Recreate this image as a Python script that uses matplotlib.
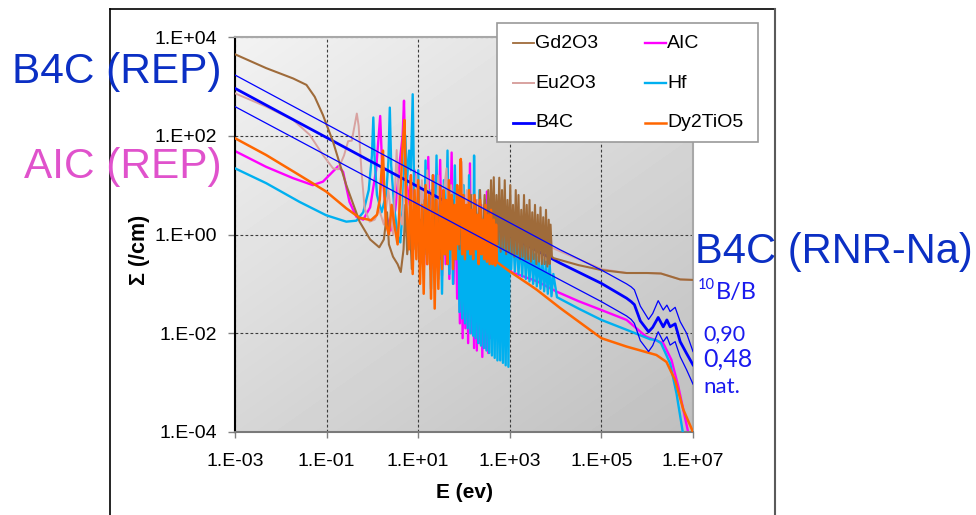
import numpy as np
import matplotlib
matplotlib.use("Agg")
import matplotlib.pyplot as plt
from matplotlib.lines import Line2D
from matplotlib.patches import Rectangle
from matplotlib.ticker import FixedLocator, FixedFormatter, NullLocator

W, H = 976, 515
plt.rcParams['font.family'] = ['Liberation Sans', 'DejaVu Sans']

# ---------------- data (log10 E [eV], log10 Sigma [/cm]) ----------------
series_names = ["Gd2O3", "Eu2O3", "B4C", "AIC", "Hf", "Dy2TiO5"]

gd_pts = [(-3.0, 3.65), (-2.32, 3.37), (-1.73, 3.16), (-1.44, 3.03), (-1.26, 2.79), (-1.08, 2.42),
          (-0.86, 1.88), (-0.57, 1.0), (-0.28, 0.26), (-0.05, -0.1), (0.15, -0.26), (0.25, -0.1),
          (0.32, 0.45), (0.36, -0.2), (0.45, -0.45), (0.55, -0.6), (0.62, -0.76), (0.68, -0.3),
          (0.72, 0.6), (0.76, -0.4), (0.82, 0.2), (0.86, -0.7), (0.90, 0.5), (0.94, -0.3),
          (0.98, 0.6), (1.02, -0.5), (1.06, 0.3), (1.10, -0.6), (1.14, 0.7), (1.18, -0.4),
          (1.22, 0.4), (1.26, -0.7), (1.30, 0.5), (1.34, -0.5), (1.38, 0.7), (1.42, -0.3),
          (1.46, 0.4), (1.50, -0.5), (1.55, 0.7), (1.60, -0.4), (1.65, 0.5), (1.70, -0.3),
          (1.75, 0.7), (1.80, -0.2), (1.85, 0.6), (1.90, -0.3), (1.95, 0.8), (2.00, -0.1),
          (2.05, 0.6), (2.10, -0.2), (2.15, 0.8), (2.20, -0.3), (2.25, 0.7), (2.30, -0.2),
          (2.35, 0.9), (2.40, -0.3), (2.45, 0.8),
          (2.50, -0.2), (2.53, 0.9), (2.56, -0.2), (2.59, 1.1), (2.62, -0.1), (2.65, 1.16),
          (2.68, -0.3), (2.71, 0.8), (2.74, -0.2), (2.77, 1.15), (2.80, -0.35), (2.83, 0.9),
          (2.86, -0.3), (2.89, 1.1), (2.92, -0.4), (2.95, 0.7), (2.98, -0.35), (3.01, 1.0),
          (3.04, -0.4), (3.07, 0.6), (3.10, -0.45), (3.13, 0.9), (3.16, -0.4), (3.19, 0.8),
          (3.22, -0.5), (3.25, 0.5), (3.28, -0.45), (3.31, 0.8), (3.34, -0.5), (3.37, 0.6),
          (3.40, -0.5), (3.43, 0.7), (3.46, -0.55), (3.49, 0.45), (3.52, -0.5), (3.55, 0.6),
          (3.58, -0.6), (3.61, 0.4), (3.64, -0.55), (3.67, 0.55), (3.70, -0.6), (3.73, 0.35),
          (3.76, -0.6), (3.79, 0.5), (3.82, -0.65), (3.85, 0.3), (3.87, -0.6), (3.89, 0.2),
          (3.92, -0.45), (3.96, -0.48), (4.5, -0.62), (5.0, -0.72), (5.55, -0.78), (6.0, -0.78),
          (6.3, -0.79), (6.72, -0.91), (7.0, -0.92)]

eu_pts = [(-3.0, 2.86), (-2.32, 2.59), (-1.73, 2.32), (-1.37, 2.02), (-1.08, 1.61), (-0.86, 1.34),
          (-0.75, 1.32), (-0.62, 1.6), (-0.53, 1.89), (-0.45, 1.9), (-0.39, 2.2), (-0.34, 2.45),
          (-0.30, 2.2), (-0.24, 1.3), (-0.17, 0.53), (-0.06, 0.26), (0.05, 0.3), (0.15, 0.5),
          (0.25, 0.2), (0.35, 0.9), (0.45, 0.0), (0.53, 1.71), (0.58, 0.5), (0.65, 0.2),
          (0.72, 1.2), (0.78, 0.3), (0.85, 1.0), (0.90, 0.1), (0.96, 1.2), (1.02, 0.0),
          (1.08, 1.1), (1.14, -0.1), (1.20, 1.3), (1.26, 0.0), (1.32, 1.0), (1.38, -0.2),
          (1.44, 1.2), (1.50, 0.0), (1.56, 0.9), (1.62, 1.34), (1.66, -0.1), (1.72, 1.0),
          (1.78, 0.0), (1.84, 0.8), (1.90, -0.2), (1.95, 1.47), (2.00, 0.0), (2.06, 0.9),
          (2.12, 0.1), (2.18, 0.8), (2.24, 0.0), (2.30, 0.7), (2.36, 0.1), (2.42, 0.6),
          (2.48, 0.2), (2.55, 0.5), (2.62, 0.3), (3.0, 0.15), (3.59, -0.11), (4.0, -0.3),
          (4.5, -0.5), (5.0, -0.7), (5.55, -0.78), (6.0, -0.78), (6.3, -0.79), (6.72, -0.91),
          (7.0, -0.92)]

b4c_090_pts = [(-3.0, 3.23), (4.1, -0.31), (5.0, -0.72), (5.55, -1.0), (5.65, -1.06), (5.72, -1.12),
               (5.85, -1.45), (6.03, -1.72), (6.12, -1.6), (6.24, -1.34), (6.35, -1.53), (6.43, -1.43),
               (6.50, -1.56), (6.61, -1.475), (6.72, -1.765), (6.86, -2.0), (7.0, -2.37)]
b4c_048_pts = [(-3.0, 2.96), (4.1, -0.58), (5.0, -0.99), (5.55, -1.29), (5.65, -1.36), (5.72, -1.42),
               (5.85, -1.75), (6.03, -1.97), (6.12, -1.88), (6.24, -1.68), (6.35, -1.87), (6.43, -1.73),
               (6.50, -1.87), (6.61, -1.81), (6.72, -2.17), (6.86, -2.41), (7.0, -2.64)]
b4c_nat_pts = [(-3.0, 2.59), (4.1, -0.92), (5.0, -1.36), (5.55, -1.65), (5.65, -1.72), (5.72, -1.8),
               (5.85, -2.15), (6.03, -2.37), (6.12, -2.25), (6.24, -1.97), (6.35, -2.17), (6.43, -2.07),
               (6.50, -2.24), (6.61, -2.17), (6.72, -2.475), (6.86, -2.74), (7.0, -3.03)]

aic_pts = [(-3.0, 1.69), (-2.32, 1.37), (-1.73, 1.14), (-1.3, 1.0), (-1.08, 1.07), (-0.9, 1.24),
           (-0.75, 1.38), (-0.64, 1.27), (-0.5, 0.66), (-0.35, 0.36), (-0.2, 0.3), (-0.05, 0.55),
           (0.08, 1.3), (0.17, 2.40), (0.22, 1.2), (0.30, 0.4), (0.40, 0.08), (0.50, 0.5),
           (0.60, 1.5), (0.66, 2.0), (0.69, 2.71), (0.72, 1.4), (0.78, 0.6), (0.84, 1.2),
           (0.88, 0.2), (0.92, 1.3), (0.96, -0.2), (1.00, 1.0), (1.04, -0.5), (1.08, 0.8),
           (1.12, -0.3), (1.16, 1.1), (1.19, -0.6), (1.22, 1.57), (1.26, -0.4), (1.30, 0.9),
           (1.34, -0.7), (1.38, 1.2), (1.42, -0.5), (1.48, 1.51), (1.52, -0.83), (1.56, 0.8),
           (1.60, -0.6), (1.64, 1.1), (1.68, -0.9), (1.73, 1.66), (1.77, -1.0), (1.81, 0.9),
           (1.85, -1.3), (1.88, 0.6), (1.91, -1.8), (1.94, 0.9), (1.97, -2.1), (2.00, 0.5),
           (2.03, -1.9), (2.06, 0.8), (2.09, -2.2), (2.13, 1.44), (2.16, -2.0), (2.19, 0.6),
           (2.22, -2.3), (2.25, 0.7), (2.28, -2.35), (2.31, 0.3), (2.34, -2.2), (2.37, 0.6),
           (2.40, -2.48), (2.43, 0.4), (2.46, -2.3), (2.50, 0.87), (2.53, -2.4), (2.56, 0.2),
           (2.59, -2.1), (2.62, 0.3), (2.65, -2.0), (2.68, 0.1), (2.71, -1.5), (2.75, 0.2),
           (2.80, -0.8), (2.85, 0.0), (2.90, 0.39), (2.95, -0.5), (3.03, -0.76), (3.3, -0.85),
           (3.6, -0.95), (4.03, -1.16), (4.5, -1.35), (5.0, -1.53), (5.55, -1.73), (5.98, -2.07),
           (6.35, -2.2), (6.53, -2.54), (6.68, -3.08), (6.90, -4.03), (6.95, -4.5)]

hf_pts = [(-3.0, 1.34), (-2.32, 1.04), (-1.59, 0.66), (-1.01, 0.39), (-0.57, 0.26), (-0.35, 0.28),
          (-0.2, 0.45), (-0.08, 0.9), (-0.01, 1.6), (0.02, 2.37), (0.05, 1.5), (0.10, 0.8),
          (0.20, 0.45), (0.30, 0.8), (0.35, 1.5), (0.38, 2.57), (0.41, 1.4), (0.48, 0.5),
          (0.56, -0.05), (0.61, -0.16), (0.66, 0.5), (0.72, 2.0), (0.75, 1.0), (0.80, 1.7),
          (0.84, 1.3), (0.88, 2.84), (0.91, 1.0), (0.95, 0.1), (1.00, 1.3), (1.04, -0.5),
          (1.08, 1.0), (1.12, -0.8), (1.16, 1.5), (1.20, -0.3), (1.24, 0.9), (1.28, -1.1),
          (1.32, 1.2), (1.36, -0.6), (1.40, 1.6), (1.44, -0.9), (1.48, 0.8), (1.52, -1.2),
          (1.56, 1.1), (1.60, -0.4), (1.64, 1.7), (1.68, -0.8), (1.72, 0.9), (1.76, -1.0),
          (1.80, 1.4), (1.84, -0.5), (1.87, 0.9), (1.90, -1.57), (1.93, 0.7), (1.96, -1.7),
          (1.99, 1.0), (2.02, -1.8), (2.05, 0.6), (2.08, -1.9), (2.11, 1.2), (2.14, -2.0),
          (2.17, 0.8), (2.20, -2.05), (2.22, 1.6), (2.25, -2.1), (2.28, 0.6), (2.31, -2.2),
          (2.34, 0.9), (2.37, -2.25), (2.40, 0.5), (2.43, -2.3), (2.46, 0.7), (2.49, -2.35),
          (2.52, 0.4), (2.55, -2.4), (2.58, 0.6), (2.61, -2.45), (2.64, 0.3), (2.67, -2.5),
          (2.70, 0.5), (2.73, -2.55), (2.76, 0.2), (2.79, -2.55), (2.82, 0.4), (2.85, -2.6),
          (2.88, 0.1), (2.91, -2.65), (2.94, 0.3), (2.97, -2.68), (3.00, 0.2), (3.03, -0.7),
          (3.07, 0.1), (3.11, -0.75), (3.15, 0.0), (3.19, -0.8), (3.23, -0.05), (3.27, -0.85),
          (3.31, -0.1), (3.35, -0.9), (3.39, -0.2), (3.43, -0.95), (3.47, -0.25), (3.51, -1.0),
          (3.55, -0.4), (3.59, -1.05), (3.63, -0.45), (3.67, -1.1), (3.71, -0.5), (3.75, -1.15),
          (3.79, -0.55), (3.83, -1.2), (3.87, -0.6), (3.91, -1.25), (3.95, -0.8), (4.03, -1.27),
          (4.5, -1.5), (5.0, -1.73), (5.55, -1.93), (6.06, -2.12), (6.2, -2.14), (6.3, -2.2),
          (6.5, -2.61), (6.64, -3.22), (6.78, -4.02), (6.85, -4.6)]

dy_pts = [(-3.0, 1.95), (-2.32, 1.61), (-1.59, 1.2), (-1.01, 0.87), (-0.57, 0.53), (-0.28, 0.34),
          (-0.03, 0.29), (0.10, 0.4), (0.16, 0.7), (0.20, 1.3), (0.23, 1.7), (0.26, 0.9),
          (0.30, 0.2), (0.36, 0.0), (0.42, 0.6), (0.48, 0.2), (0.55, -0.2), (0.62, 1.0),
          (0.66, 1.8), (0.70, 2.32), (0.74, 0.6), (0.80, -0.3), (0.84, 1.2), (0.88, -0.8),
          (0.92, 0.9), (0.96, -0.5), (1.00, 1.1), (1.04, -1.0), (1.08, 0.6), (1.12, -1.2),
          (1.16, 1.0), (1.20, -0.6), (1.24, 0.8), (1.28, -1.3), (1.32, 1.2), (1.36, -1.5),
          (1.40, 0.7), (1.44, -1.1), (1.48, 1.0), (1.52, -0.7), (1.55, 0.9), (1.58, -0.4),
          (1.61, 0.7), (1.64, -0.6), (1.67, 1.1), (1.70, -0.3), (1.73, 0.8), (1.76, -0.7),
          (1.79, 0.6), (1.82, -0.5), (1.85, 1.0), (1.88, -0.2), (1.91, 0.7), (1.93, 1.53),
          (1.96, -0.4), (1.99, 0.8), (2.02, -0.5), (2.05, 0.6), (2.08, -0.3), (2.11, 0.9),
          (2.14, -0.4), (2.17, 0.5), (2.20, -0.5), (2.23, 0.8), (2.26, -0.3), (2.29, 0.4),
          (2.32, -0.6), (2.35, 0.7), (2.38, -0.4), (2.41, 0.3), (2.44, -0.5), (2.47, 0.6),
          (2.50, -0.55), (2.53, 0.4), (2.56, -0.6), (2.59, 0.5), (2.62, -0.6), (2.65, 0.3),
          (2.68, -0.63), (2.70, 0.2), (2.72, -0.56), (3.0, -0.75), (3.45, -1.03), (3.59, -1.12),
          (4.1, -1.49), (5.0, -2.10), (5.55, -2.27), (6.2, -2.44), (6.42, -2.58), (6.61, -2.95),
          (6.79, -3.55), (7.0, -4.0)]

x_ticks = [1e-3, 1e-1, 1e1, 1e3, 1e5, 1e7]
x_tick_labels = ["1.E-03", "1.E-01", "1.E+01", "1.E+03", "1.E+05", "1.E+07"]
y_ticks = [1e-4, 1e-2, 1e0, 1e2, 1e4]
y_tick_labels = ["1.E-04", "1.E-02", "1.E+00", "1.E+02", "1.E+04"]

colors = {"Gd2O3": "#9f6b3a", "Eu2O3": "#d8a2a0", "B4C": "#0000ff",
          "AIC": "#ff00ff", "Hf": "#00b0f0", "Dy2TiO5": "#ff6600"}


def xy(pts):
    a = np.array(pts, dtype=float)
    return 10 ** a[:, 0], 10 ** a[:, 1]


def fx(px):
    return px / W


def fy(py):
    return 1 - py / H


fig = plt.figure(figsize=(W / 100, H / 100), dpi=100)
fig.patch.set_facecolor("white")

rect = [fx(235), fy(432), (693 - 235) / W, (432 - 37) / H]

# gradient background of the plot area
bg = fig.add_axes(rect, zorder=-1)
g = np.linspace(0, 1, 80)
GX, GY = np.meshgrid(g, g)
grad = 0.95 - 0.09 * GX - 0.11 * (1 - GY)
bg.imshow(grad, extent=[0, 1, 0, 1], origin="lower", cmap="gray", vmin=0, vmax=1,
          aspect="auto", interpolation="bilinear")
bg.axis("off")

ax = fig.add_axes(rect)
ax.set_facecolor("none")
ax.set_xscale("log")
ax.set_yscale("log")

ax.plot(*xy(aic_pts), color=colors["AIC"], lw=1.7, zorder=2)
ax.plot(*xy(hf_pts), color=colors["Hf"], lw=1.7, zorder=3)
ax.plot(*xy(eu_pts), color=colors["Eu2O3"], lw=1.4, zorder=3.5)
ax.plot(*xy(b4c_048_pts), color=colors["B4C"], lw=2.0, zorder=4)
ax.plot(*xy(gd_pts), color=colors["Gd2O3"], lw=1.5, zorder=4.5)
ax.plot(*xy(dy_pts), color=colors["Dy2TiO5"], lw=1.8, zorder=5)
ax.plot(*xy(b4c_090_pts), color=colors["B4C"], lw=0.9, zorder=6)
ax.plot(*xy(b4c_nat_pts), color=colors["B4C"], lw=0.9, zorder=6)

ax.set_xlim(1e-3, 1e7)
ax.set_ylim(1e-4, 1e4)
ax.xaxis.set_major_locator(FixedLocator(x_ticks))
ax.xaxis.set_major_formatter(FixedFormatter(x_tick_labels))
ax.yaxis.set_major_locator(FixedLocator(y_ticks))
ax.yaxis.set_major_formatter(FixedFormatter(y_tick_labels))
ax.xaxis.set_minor_locator(NullLocator())
ax.yaxis.set_minor_locator(NullLocator())

ax.grid(True, which="major", color="#3c3c3c", linestyle=(0, (2.5, 2)), linewidth=0.8)
ax.set_axisbelow(True)

ax.tick_params(axis="x", direction="out", length=4, width=1, color="#808080", pad=11,
               labelsize=14, labelcolor="black")
ax.tick_params(axis="y", direction="out", length=5, width=1, color="#808080", pad=8,
               labelsize=14, labelcolor="black")

ax.spines["left"].set_color("black")
ax.spines["left"].set_linewidth(1.5)
ax.spines["bottom"].set_color("#7a7a7a")
ax.spines["bottom"].set_linewidth(1.5)
for s in ("top", "right"):
    ax.spines[s].set_color("#a8a8a8")
    ax.spines[s].set_linewidth(1.5)

# axis titles
fig.text(fx(465), fy(493), "E (ev)", ha="center", va="center", fontsize=15, weight="bold")
fig.text(fx(140), fy(250), "Σ (/cm)", ha="center", va="center", rotation=90,
         fontsize=15.5, weight="bold")

# legend (drawn by hand to match the reference's layout)
fig.add_artist(Rectangle((fx(497), fy(142)), (758 - 497) / W, (142 - 23) / H,
                         transform=fig.transFigure, facecolor="white",
                         edgecolor="#9a9a9a", lw=1.2, zorder=10))
legend_layout = [("Gd2O3", 513, 43, 1.3), ("AIC", 645, 43, 1.7),
                 ("Eu2O3", 513, 83, 1.4), ("Hf", 645, 83, 1.7),
                 ("B4C", 513, 123, 2.0), ("Dy2TiO5", 645, 123, 1.8)]
for name, x0, y0, lw in legend_layout:
    fig.add_artist(Line2D([fx(x0), fx(x0 + 21)], [fy(y0), fy(y0)], color=colors[name],
                          lw=lw, transform=fig.transFigure, zorder=11))
    fig.text(fx(x0 + 22), fy(y0), name, ha="left", va="center", fontsize=14, zorder=12)

# annotations
fig.text(fx(222), fy(83), "B4C (REP)", ha="right", va="baseline", fontsize=30.5, color="#0b2fc4")
fig.text(fx(222), fy(178), "AIC (REP)", ha="right", va="baseline", fontsize=30.5, color="#e052cc")
fig.text(fx(695), fy(263), "B4C (RNR-Na)", ha="left", va="baseline", fontsize=30, color="#0b2fc4")
ann_font = ["Lato", "DejaVu Sans"]
fig.text(fx(698), fy(289), "10", ha="left", va="baseline", fontsize=10.5, color="#1a1aee",
         family=ann_font)
fig.text(fx(716), fy(299), "B/B", ha="left", va="baseline", fontsize=17, color="#1a1aee",
         family=ann_font)
fig.text(fx(703), fy(340), "0,90", ha="left", va="baseline", fontsize=15.5, color="#1a1aee",
         family=ann_font)
fig.text(fx(703), fy(367), "0,48", ha="left", va="baseline", fontsize=18, color="#1a1aee",
         family=ann_font)
fig.text(fx(703), fy(393), "nat.", ha="left", va="baseline", fontsize=16, color="#1a1aee",
         family=ann_font)

# outer slide frame
fig.add_artist(Line2D([fx(109.5), fx(109.5)], [0, fy(8.5)], color="black", lw=1.2,
                      transform=fig.transFigure))
fig.add_artist(Line2D([fx(109.5), fx(775)], [fy(8.5), fy(8.5)], color="black", lw=1.2,
                      transform=fig.transFigure))
fig.add_artist(Line2D([fx(775), fx(775)], [fy(8.5), 0], color="#5a5a5a", lw=1.5,
                      transform=fig.transFigure))

fig.savefig("out.png", dpi=100, facecolor="white")
